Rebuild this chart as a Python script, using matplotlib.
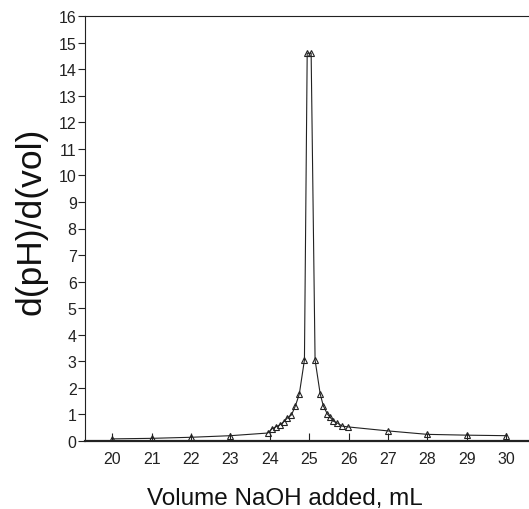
import matplotlib
matplotlib.use("Agg")
import matplotlib.pyplot as plt

volume = [20, 21, 22, 23, 23.95, 24.05, 24.15, 24.25, 24.35, 24.45, 24.55, 24.65, 24.75,
          24.88, 24.95, 25.05, 25.15, 25.28, 25.36, 25.46, 25.53, 25.61, 25.71, 25.84, 25.99,
          27, 28, 29, 30]
dpH_dvol = [0.08, 0.1, 0.14, 0.2, 0.3, 0.45, 0.53, 0.6, 0.72, 0.87, 0.98, 1.32, 1.77,
            3.05, 14.6, 14.6, 3.05, 1.77, 1.32, 1.02, 0.9, 0.75, 0.68, 0.56, 0.53,
            0.38, 0.25, 0.22, 0.2]
xticks = list(range(20, 31))
yticks = list(range(0, 17))

plt.rcParams['font.family'] = ['Liberation Sans', 'DejaVu Sans']

W, H = 529, 510
fig = plt.figure(figsize=(W/100, H/100), dpi=100)
ax = fig.add_axes([85/W, 1-442/H, 1-85/W, (442-17)/H])

ax.plot(volume, dpH_dvol, color='#222222', lw=0.8, marker='^', ms=4.5,
        mfc='none', mec='#222222', mew=0.8)

ax.set_xlim(19.31, 30.58)
ax.set_ylim(0, 16)
ax.set_xticks(xticks)
ax.set_yticks(yticks)
ax.tick_params(axis='x', direction='in', length=6, width=0.8, labelsize=11.5, pad=7, colors='#222222')
ax.tick_params(axis='y', direction='out', length=5, width=0.8, labelsize=11.5, pad=1, colors='#222222')

ax.spines['right'].set_visible(False)
ax.spines['top'].set_linewidth(0.8)
ax.spines['left'].set_linewidth(0.8)
ax.spines['bottom'].set_linewidth(1.6)
for s in ax.spines.values():
    s.set_color('#222222')

fig.text(285/W, 1-505/H, 'Volume NaOH added, mL', fontsize=17.5, ha='center',
         va='baseline', color='#111111')
fig.text(31/W, 1-221/H, 'd(pH)/d(vol)', fontsize=25.5, ha='center', va='center',
         rotation=90, color='#111111')

fig.savefig('out.png', dpi=100)
